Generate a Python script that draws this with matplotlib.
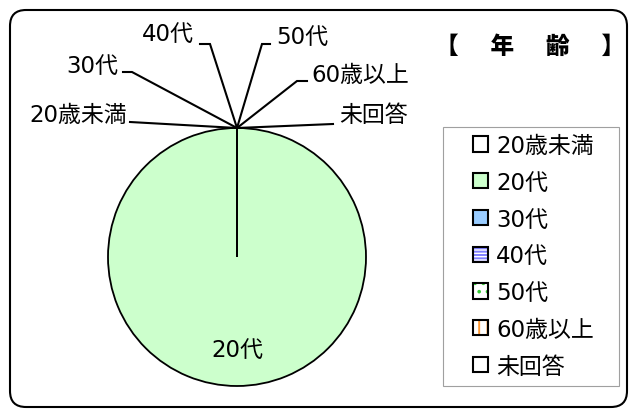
import matplotlib
matplotlib.use("Agg")
import numpy as np
from matplotlib import pyplot as plt
from matplotlib.patches import FancyBboxPatch, Rectangle
from matplotlib.legend_handler import HandlerTuple

plt.rcParams['font.family'] = ['DejaVu Sans', 'Noto Sans CJK JP']
plt.rcParams['hatch.linewidth'] = 1.4

categories = ['20歳未満', '20代', '30代', '40代', '50代', '60歳以上', '未回答']
values = [0, 100, 0, 0, 0, 0, 0]
title = '【　 年　 齢　 】'

# fill, hatch, hatch colour per category
fills = ['white', '#CCFFCC', '#99CCFF', 'white', 'white', 'white', 'white']
hatches = [None, None, None, '-----', '..', '||', None]
hatch_cols = ['white', '#CCFFCC', '#99CCFF', '#8080FF', '#33CC33', '#FF9933', 'white']

W, H = 629, 410
FS = 16.5
fig = plt.figure(figsize=(W / 100, H / 100), dpi=100)
ax = fig.add_axes([0, 0, 1, 1])

cx, cy, R = 237, H - 258, 129
wedges, _ = ax.pie(values, center=(cx, cy), radius=R, startangle=90, counterclock=False,
                   colors=fills, wedgeprops=dict(edgecolor='black', linewidth=1.3))
ax.set_xlim(0, W)
ax.set_ylim(0, H)
ax.set_aspect('equal')
ax.axis('off')

# top point of the pie where the zero-size slices sit
th = np.deg2rad(wedges[0].theta1)
px, py = cx + R * np.cos(th), cy + R * np.sin(th)

# label layout (image pixels): elbow, end of tick, text anchor, alignment
layout = {
    '20歳未満': ((130, 123), (130, 123), (127, 115), 'right'),
    '30代': ((132, 73), (123, 73), (118, 66), 'right'),
    '40代': ((210, 45), (200, 45), (194, 34), 'right'),
    '50代': ((262, 45), (270, 45), (276, 37), 'left'),
    '60歳以上': ((297, 82), (307, 82), (311, 76), 'left'),
    '未回答': ((333, 125), (333, 125), (339, 116), 'left'),
}
for cat, v in zip(categories, values):
    if cat in layout:
        (ex, ey), (tx, ty), (lx, ly), ha = layout[cat]
        ax.plot([px, ex, tx], [py, H - ey, H - ty], color='black', lw=1.5,
                solid_joinstyle='miter')
        ax.text(lx, H - ly, cat, ha=ha, va='center', fontsize=FS)

# label of the big slice
ax.text(cx, H - 350, categories[1], ha='center', va='center', fontsize=FS)

ax.text(530, H - 47, title, ha='center', va='center', fontsize=17, fontweight='heavy')

# outer rounded frame
ax.add_patch(FancyBboxPatch((10, 2), 617, 397, boxstyle='round,pad=0,rounding_size=16',
                            fill=False, edgecolor='black', linewidth=1.5))
# legend frame
ax.add_patch(Rectangle((443, H - 387), 176, 259, fill=False, edgecolor='#A0A0A0',
                       linewidth=0.8))

handles = []
for f, hch, hc in zip(fills, hatches, hatch_cols):
    back = Rectangle((0, 0), 1, 1, facecolor=f, edgecolor=hc, hatch=hch, linewidth=0)
    edge = Rectangle((0, 0), 1, 1, facecolor='none', edgecolor='black', linewidth=1.5)
    handles.append((back, edge))

leg = ax.legend(handles, categories, handler_map={tuple: HandlerTuple(ndivide=1)},
                loc='upper left', bbox_to_anchor=(473 / W, 1 - 135 / H),
                fontsize=FS, handlelength=0.65, handleheight=0.65, handletextpad=0.36,
                labelspacing=0.6, borderpad=0, borderaxespad=0, frameon=False)

fig.savefig('out.png', dpi=100)
